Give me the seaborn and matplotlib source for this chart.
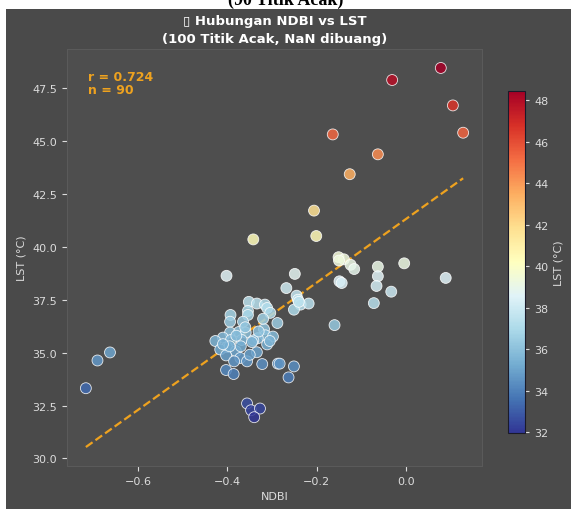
import numpy as np
import pandas as pd
import matplotlib
matplotlib.use("Agg")
import matplotlib.pyplot as plt
import seaborn as sns
from matplotlib.patches import Rectangle

# ---- data ----
ndbi = [
    0.078, -0.031, 0.105, 0.128, -0.164, -0.063, -0.126, -0.206, -0.201, -0.342,
    -0.151, -0.139, -0.124, -0.116, -0.063, -0.063, -0.066, -0.033, -0.072, -0.004,
    0.089, -0.149, -0.144, -0.160, -0.402, -0.249, -0.268, -0.245, -0.242, -0.236,
    -0.218, -0.251, -0.352, -0.334, -0.316, -0.311, -0.304, -0.354, -0.354, -0.393,
    -0.394, -0.365, -0.288, -0.318, -0.315, -0.298, -0.332, -0.342, -0.311, -0.334,
    -0.394, -0.374, -0.359, -0.368, -0.410, -0.392, -0.427, -0.401, -0.416, -0.381,
    -0.403, -0.371, -0.385, -0.356, -0.322, -0.287, -0.283, -0.251, -0.263, -0.403,
    -0.386, -0.663, -0.691, -0.717, -0.356, -0.347, -0.327, -0.340,
    -0.395, -0.380, -0.360, -0.345, -0.330, -0.305, -0.350, -0.410, -0.370, -0.320,
    -0.240, -0.150,
]
lst = [
    48.45, 47.88, 46.68, 45.39, 45.31, 44.37, 43.43, 41.71, 40.51, 40.35,
    39.51, 39.41, 39.15, 38.95, 39.06, 38.61, 38.15, 37.88, 37.34, 39.22,
    38.53, 38.37, 38.29, 36.30, 38.63, 38.72, 38.05, 37.69, 37.50, 37.27,
    37.32, 37.03, 37.40, 37.32, 37.27, 37.11, 36.88, 36.97, 36.78, 36.78,
    36.46, 36.46, 36.40, 36.11, 35.82, 35.76, 35.68, 35.58, 35.39, 35.02,
    35.95, 35.98, 35.95, 35.60, 35.71, 35.60, 35.55, 35.26, 35.15, 35.07,
    34.87, 34.75, 34.59, 34.59, 34.46, 34.48, 34.48, 34.35, 33.83, 34.18,
    33.99, 35.01, 34.63, 33.32, 32.60, 32.28, 32.36, 31.95,
    35.30, 35.80, 36.20, 35.50, 36.00, 35.55, 34.90, 35.40, 35.30, 36.60,
    37.40, 39.35,
]
r_text = "r = 0.724"
n_text = "n = 90"
cbar_ticks = [32, 34, 36, 38, 40, 42, 44, 46, 48]

df = pd.DataFrame({"NDBI": ndbi, "LST": lst})

# ---- style ----
FIG_BG = "#4a4a4a"
AX_BG = "#4e4e4e"
TXT = "#dcdcdc"
ORANGE = "#eea21f"

sns.set_style("dark")
plt.rcParams["font.family"] = ["DejaVu Sans"]

fig = plt.figure(figsize=(5.71, 5.10), dpi=100)
fig.patch.set_facecolor("white")
fig.patches.append(Rectangle((6 / 571, 0), 1, 500 / 510, transform=fig.transFigure,
                             facecolor=FIG_BG, edgecolor="none", zorder=-10))
fig.text(0.5, 1 - 5 / 510, "(90 Titik Acak)", ha="center", va="baseline",
         fontsize=13, fontweight="bold", family="Liberation Serif", color="black")

ax = fig.add_axes([67 / 571, (510 - 467) / 510, (482 - 67) / 571, (467 - 50) / 510])
ax.set_facecolor(AX_BG)

vmin, vmax = min(lst), max(lst)
norm = plt.Normalize(vmin, vmax)
sns.scatterplot(data=df, x="NDBI", y="LST", hue="LST", palette="RdYlBu_r",
                hue_norm=norm, s=62, alpha=0.85, edgecolor="white", linewidth=0.6,
                legend=False, ax=ax, zorder=3)

# regression line
coef = np.polyfit(df["NDBI"], df["LST"], 1)
xs = np.linspace(min(ndbi), max(ndbi), 50)
ax.plot(xs, np.polyval(coef, xs), color=ORANGE, ls="--", lw=1.6, zorder=2)

ax.text(0.05, 0.95, r_text + "\n" + n_text, transform=ax.transAxes, ha="left", va="top",
        color=ORANGE, fontsize=9, fontweight="bold", linespacing=1.0)

ax.set_title("\u25af Hubungan NDBI vs LST\n(100 Titik Acak, NaN dibuang)",
             color="white", fontsize=9.5, fontweight="bold", pad=5, linespacing=1.5)
ax.set_xlabel("NDBI", color=TXT, fontsize=8)
ax.set_ylabel("LST (°C)", color=TXT, fontsize=8)
ax.set_xticks([-0.6, -0.4, -0.2, 0.0])
ax.set_yticks([30.0, 32.5, 35.0, 37.5, 40.0, 42.5, 45.0, 47.5])
ax.tick_params(colors=TXT, labelsize=8, length=3.5, width=0.8, bottom=True, left=True)
ax.grid(False)
for sp in ax.spines.values():
    sp.set_color("#5a5a5a")
    sp.set_linewidth(0.8)

# colorbar
cax = fig.add_axes([508 / 571, (510 - 434) / 510, 17 / 571, (434 - 92) / 510])
sm = plt.cm.ScalarMappable(norm=norm, cmap="RdYlBu_r")
cb = fig.colorbar(sm, cax=cax)
cb.set_ticks(cbar_ticks)
cb.ax.tick_params(colors=TXT, labelsize=8, length=3, width=0.8)
cb.set_label("LST (°C)", color=TXT, fontsize=8)
cb.outline.set_edgecolor("#1a1a2a")
cb.outline.set_linewidth(0.8)

fig.savefig("out.png", dpi=100, facecolor=fig.get_facecolor())
